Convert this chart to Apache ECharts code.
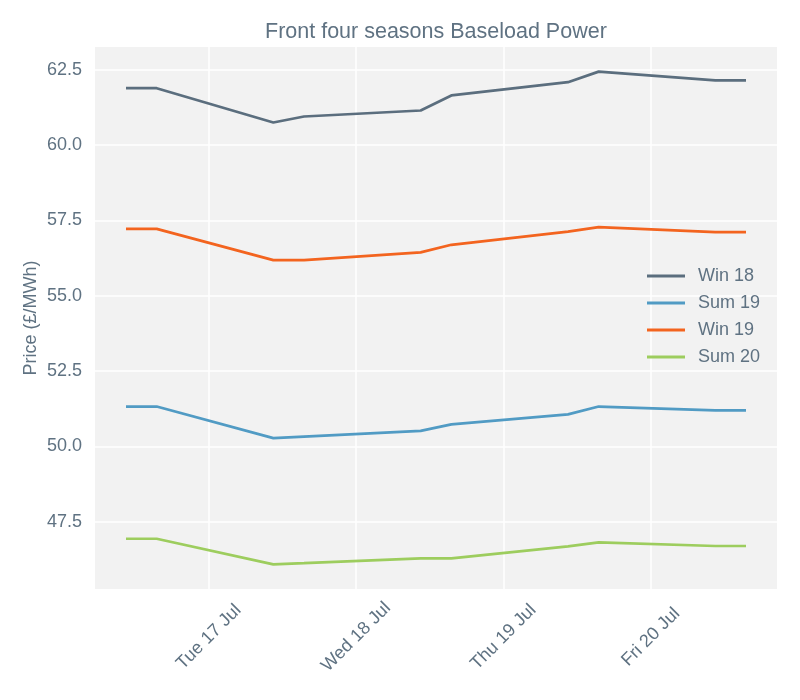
<!DOCTYPE html>
<html>
<head>
<meta charset="utf-8">
<title>Front four seasons Baseload Power</title>
<script src="https://cdn.jsdelivr.net/npm/echarts@6/dist/echarts.min.js"></script>
<style>
    html, body { margin: 0; padding: 0; background: #fff; }
    #chart { width: 800px; height: 700px; }
</style>
</head>
<body>
<div id="chart"></div>
<script>
// trading times (UTC), two prints a day
var times = [
    Date.UTC(2018, 6, 16, 10, 30), Date.UTC(2018, 6, 16, 15, 30),
    Date.UTC(2018, 6, 17, 10, 30), Date.UTC(2018, 6, 17, 15, 30),
    Date.UTC(2018, 6, 18, 10, 30), Date.UTC(2018, 6, 18, 15, 30),
    Date.UTC(2018, 6, 19, 10, 30), Date.UTC(2018, 6, 19, 15, 30),
    Date.UTC(2018, 6, 20, 10, 30), Date.UTC(2018, 6, 20, 15, 30)
];
var seriesNames = ['Win 18', 'Sum 19', 'Win 19', 'Sum 20'];
var win18 = [61.89, 61.89, 60.75, 60.95, 61.15, 61.65, 62.09, 62.44, 62.15, 62.15];
var sum19 = [51.32, 51.32, 50.27, 50.32, 50.51, 50.73, 51.06, 51.32, 51.19, 51.19];
var win19 = [57.22, 57.22, 56.18, 56.18, 56.44, 56.69, 57.13, 57.28, 57.11, 57.11];
var sum20 = [46.93, 46.93, 46.08, 46.12, 46.28, 46.28, 46.68, 46.81, 46.69, 46.69];
var xTicks = [Date.UTC(2018, 6, 17), Date.UTC(2018, 6, 18), Date.UTC(2018, 6, 19), Date.UTC(2018, 6, 20)];
var yTicks = [47.5, 50.0, 52.5, 55.0, 57.5, 60.0, 62.5];

var colors = ['#5b6e7e', '#519bc4', '#f3641f', '#9dcd5e'];
var textColor = '#5f7282';
var fontFamily = '"Liberation Sans", Arial, Helvetica, sans-serif';
var dayNames = ['Sun', 'Mon', 'Tue', 'Wed', 'Thu', 'Fri', 'Sat'];
var monthNames = ['Jan', 'Feb', 'Mar', 'Apr', 'May', 'Jun', 'Jul', 'Aug', 'Sep', 'Oct', 'Nov', 'Dec'];

function zip(ys) {
    return times.map(function (t, i) { return [t, ys[i]]; });
}

// 5% padding each side, like the original plot
var xSpan = times[times.length - 1] - times[0];
var xMin = times[0] - xSpan * 0.05;
var xMax = times[times.length - 1] + xSpan * 0.05;
var allY = win18.concat(sum19, win19, sum20);
var yLo = Math.min.apply(null, allY), yHi = Math.max.apply(null, allY);
var yMin = yLo - (yHi - yLo) * 0.05;
var yMax = yHi + (yHi - yLo) * 0.05;

var myChart = echarts.init(document.getElementById('chart'));
var option = {
    backgroundColor: '#ffffff',
    color: colors,
    textStyle: { fontFamily: fontFamily, color: textColor },
    title: {
        text: 'Front four seasons Baseload Power',
        left: 265,
        top: 21,
        padding: 0,
        textStyle: { fontSize: 21.5, fontWeight: 'normal', color: textColor, fontFamily: fontFamily }
    },
    legend: {
        orient: 'vertical',
        left: 647,
        top: 267,
        padding: 0,
        icon: 'rect',
        itemWidth: 38,
        itemHeight: 3,
        itemGap: 9,
        data: seriesNames,
        textStyle: { fontSize: 18, lineHeight: 18, color: textColor, fontFamily: fontFamily, padding: [0, 0, 0, 8] }
    },
    grid: {
        left: 95,
        right: 23,
        top: 47,
        bottom: 111,
        show: true,
        backgroundColor: '#f2f2f2',
        borderWidth: 0
    },
    xAxis: {
        type: 'value',
        min: xMin,
        max: xMax,
        axisLine: { show: false },
        axisTick: { show: false, customValues: xTicks },
        splitLine: { show: true, lineStyle: { color: '#ffffff', width: 1.5 } },
        axisLabel: {
            customValues: xTicks,
            rotate: 45,
            align: 'center',
            verticalAlign: 'middle',
            margin: 48,
            fontSize: 18,
            color: textColor,
            fontFamily: fontFamily,
            formatter: function (v) {
                var d = new Date(v);
                return dayNames[d.getUTCDay()] + ' ' + d.getUTCDate() + ' ' + monthNames[d.getUTCMonth()];
            }
        }
    },
    yAxis: {
        type: 'value',
        min: yMin,
        max: yMax,
        name: 'Price (£/MWh)',
        nameLocation: 'middle',
        nameGap: 55,
        nameMoveOverlap: false,
        nameTextStyle: { fontSize: 18, color: textColor, fontFamily: fontFamily },
        axisLine: { show: false },
        axisTick: { show: false, customValues: yTicks },
        splitLine: { show: true, lineStyle: { color: '#ffffff', width: 1.5 } },
        axisLabel: {
            customValues: yTicks,
            margin: 13,
            fontSize: 18,
            color: textColor,
            fontFamily: fontFamily,
            formatter: function (v) { return v.toFixed(1); }
        }
    },
    series: [
        { name: 'Win 18', type: 'line', data: zip(win18) },
        { name: 'Sum 19', type: 'line', data: zip(sum19) },
        { name: 'Win 19', type: 'line', data: zip(win19) },
        { name: 'Sum 20', type: 'line', data: zip(sum20) }
    ].map(function (s) {
        s.symbol = 'none';
        s.lineStyle = { width: 2.7 };
        s.animation = false;
        return s;
    })
};
myChart.setOption(option);
</script>
</body>
</html>
